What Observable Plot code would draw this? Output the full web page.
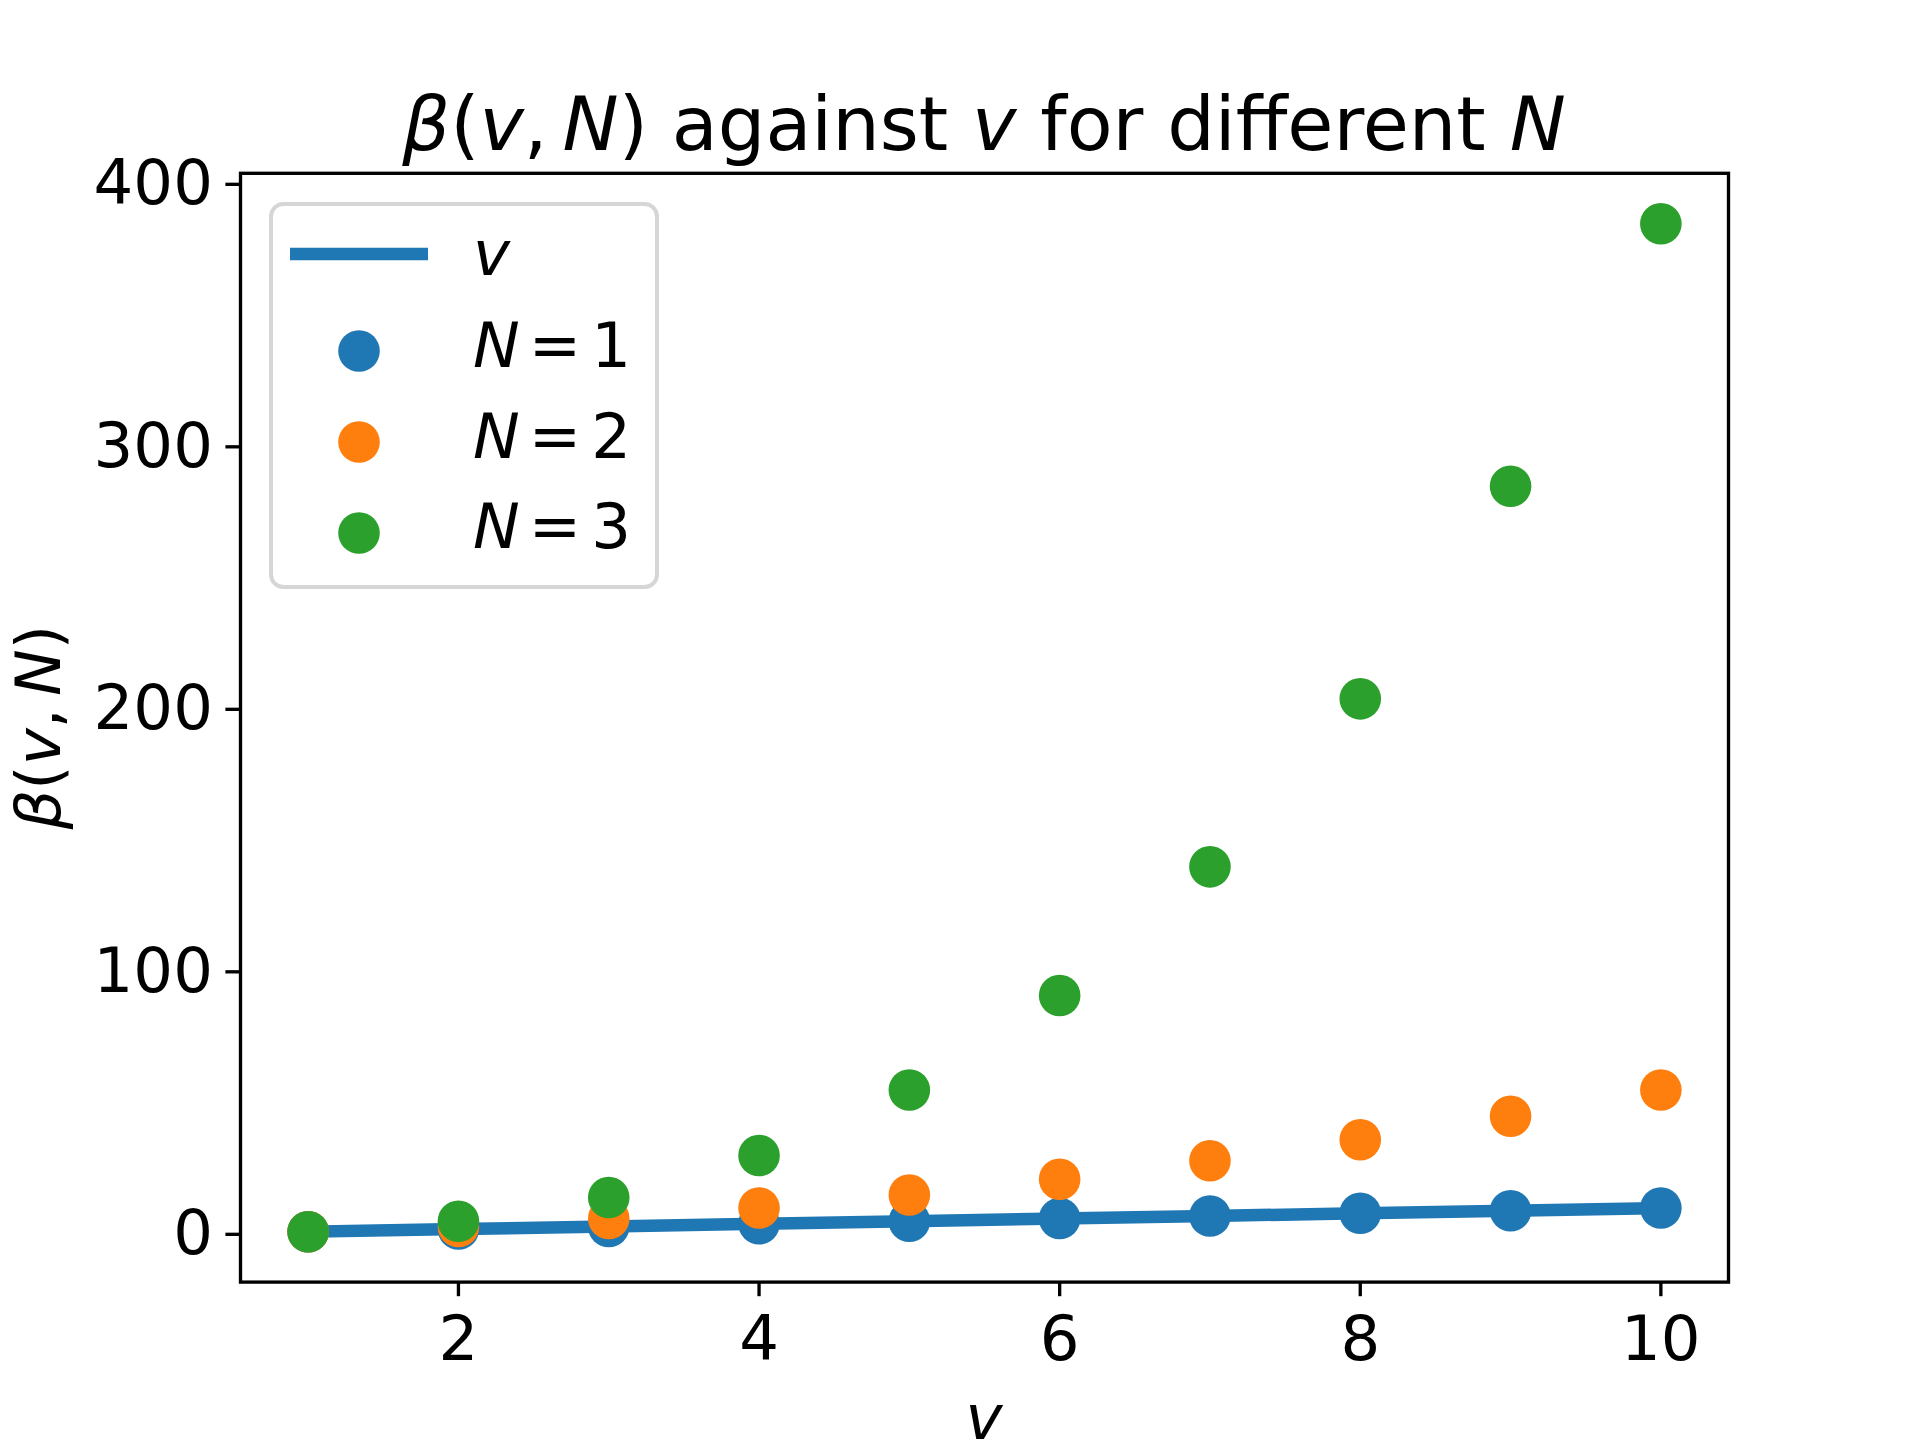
<!DOCTYPE html>
<html>
<head>
<meta charset="utf-8">
<script src="https://cdn.jsdelivr.net/npm/d3@7"></script>
<script src="https://cdn.jsdelivr.net/npm/@observablehq/plot@0.6"></script>
<style>
  html, body { margin: 0; padding: 0; background: white; }
  #chart { width: 1920px; height: 1440px; }
</style>
</head>
<body>
<div id="chart"></div>
<script>
// ---- data ----
const vValues = [1, 2, 3, 4, 5, 6, 7, 8, 9, 10];
const lineValues = [1, 2, 3, 4, 5, 6, 7, 8, 9, 10];          // y = v
const seriesN1 = [1, 2, 3, 4, 5, 6, 7, 8, 9, 10];
const seriesN2 = [1, 3, 6, 10, 15, 21, 28, 36, 45, 55];
const seriesN3 = [1, 5, 14, 30, 55, 91, 140, 204, 285, 385];
const seriesNames = ["N = 1", "N = 2", "N = 3"];
const seriesColors = ["#1f77b4", "#ff7f0e", "#2ca02c"];
const xTicks = [2, 4, 6, 8, 10];
const yTicks = [0, 100, 200, 300, 400];

const lineData = vValues.map((x, i) => ({ x, y: lineValues[i] }));
const seriesList = [seriesN1, seriesN2, seriesN3];
const dotData = seriesList.flatMap((s, k) =>
  vValues.map((x, i) => ({ x, y: s[i], series: seriesNames[k] })));

const W = 1920, H = 1440;
const mL = 240, mR = 192, mT = 172.8, mB = 158.4;
const tickLen = 14.6, sw = 3.33;

const svg = Plot.plot({
  width: W, height: H,
  marginLeft: mL, marginRight: mR, marginTop: mT, marginBottom: mB,
  style: { fontFamily: "DejaVu Sans", fontSize: "62.5px", color: "black", background: "white" },
  x: { domain: [0.55, 10.45] },
  y: { domain: [-18.2, 404.2] },
  color: { domain: seriesNames, range: seriesColors },
  marks: [
    Plot.line(lineData, { x: "x", y: "y", stroke: seriesColors[0], strokeWidth: 12.5, strokeLinecap: "square" }),
    ...seriesNames.map(name =>
      Plot.dot(dotData.filter(d => d.series === name), { x: "x", y: "y", r: 20.8, fill: "series", stroke: null })),
    Plot.frame({ stroke: "black", strokeWidth: sw }),
    Plot.axisX({ ticks: xTicks, tickSize: tickLen, tickPadding: 19, strokeWidth: sw, fontSize: 62.5, label: null }),
    Plot.axisY({ ticks: yTicks, tickSize: tickLen, tickPadding: 13, strokeWidth: sw, fontSize: 62.5, label: null })
  ]
});

document.getElementById("chart").appendChild(svg);

const s = d3.select(svg);
const cx = (mL + (W - mR)) / 2;

function mathText(sel, parts) {
  parts.forEach(([t, it, dx]) => {
    const ts = sel.append("tspan").attr("font-style", it ? "italic" : "normal").text(t);
    if (dx) ts.attr("dx", dx);
  });
}

// title
const title = s.append("text")
  .attr("x", cx).attr("y", 150)
  .attr("text-anchor", "middle")
  .attr("font-family", "DejaVu Sans")
  .attr("font-size", 75)
  .attr("fill", "black");
mathText(title, [["β", true], ["(", false], ["v", true], [",\u2009", false], ["N", true], [")", false],
  [" against ", false], ["v", true], [" for different ", false], ["N", true]]);

// y label
const ylab = s.append("text")
  .attr("transform", `translate(60,${(mT + (H - mB)) / 2}) rotate(-90)`)
  .attr("text-anchor", "middle")
  .attr("font-family", "DejaVu Sans")
  .attr("font-size", 62.5)
  .attr("fill", "black");
mathText(ylab, [["β", true], ["(", false], ["v", true], [",\u2009", false], ["N", true], [")", false]]);

// x label
const xlab = s.append("text")
  .attr("x", cx).attr("y", 1439)
  .attr("text-anchor", "middle")
  .attr("font-family", "DejaVu Sans")
  .attr("font-size", 62.5)
  .attr("fill", "black");
mathText(xlab, [["v", true]]);

// legend
const lg = s.append("g").attr("font-family", "DejaVu Sans").attr("font-size", 62.5).attr("text-anchor", "start");
lg.append("rect")
  .attr("x", 271).attr("y", 204).attr("width", 386).attr("height", 383)
  .attr("rx", 12.5).attr("ry", 12.5)
  .attr("fill", "white").attr("fill-opacity", 0.8)
  .attr("stroke", "#d6d6d6").attr("stroke-width", 4);
lg.append("line")
  .attr("x1", 290).attr("x2", 428).attr("y1", 254).attr("y2", 254)
  .attr("stroke", seriesColors[0]).attr("stroke-width", 12.5);
const vt = lg.append("text").attr("x", 473).attr("y", 275).attr("fill", "black");
mathText(vt, [["v", true]]);
const rowY = [351, 442, 533];
const rowBase = [367, 458, 548];
seriesNames.forEach((name, k) => {
  lg.append("circle").attr("cx", 359).attr("cy", rowY[k]).attr("r", 20.8).attr("fill", seriesColors[k]);
  const t = lg.append("text").attr("x", 473).attr("y", rowBase[k]).attr("fill", "black");
  mathText(t, [["N", true], ["=", false, 9], [String(k + 1), false, 10]]);
});
</script>
</body>
</html>
